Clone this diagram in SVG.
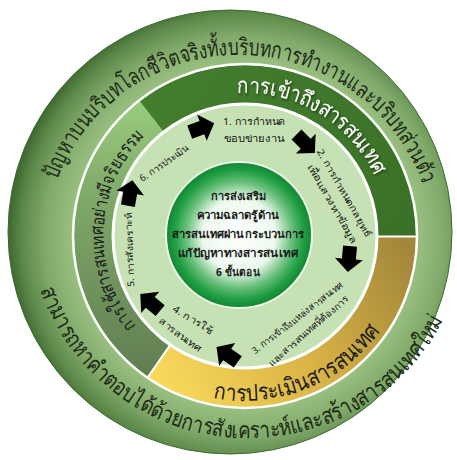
<svg xmlns="http://www.w3.org/2000/svg" width="457" height="460" viewBox="0 0 457 460">
<style>
.t{font-family:"Noto Sans",sans-serif}
.outer{font-size:23px;fill:#1d2b16}
.band{font-size:22px;fill:#ffffff}
.gold{font-size:23px;fill:#1a1a1a}
.eth{font-size:18px;fill:#1a1a1a}
.step{font-size:9.5px;fill:#151515;text-anchor:middle}
.ctr{font-size:11px;font-weight:bold;fill:#1a1a1a;text-anchor:middle}
.sep{stroke:#ffffff;fill:none}
</style>
<defs>
<radialGradient id="gOuter" gradientUnits="userSpaceOnUse" cx="245" cy="236" r="236">
<stop offset="0.72" stop-color="#9cc283"/>
<stop offset="0.85" stop-color="#80a96a"/>
<stop offset="0.95" stop-color="#5a8747"/>
<stop offset="1" stop-color="#3f6b31"/>
</radialGradient>
<linearGradient id="gGold" gradientUnits="userSpaceOnUse" x1="160" y1="390" x2="410" y2="250">
<stop offset="0" stop-color="#f9da5c"/>
<stop offset="0.5" stop-color="#d9b446"/>
<stop offset="1" stop-color="#a3863a"/>
</linearGradient>
<linearGradient id="gEth" gradientUnits="userSpaceOnUse" x1="0" y1="110" x2="0" y2="370">
<stop offset="0" stop-color="#97c97d"/>
<stop offset="0.35" stop-color="#7ea868"/>
<stop offset="1" stop-color="#627f52"/>
</linearGradient>
<linearGradient id="gDark" gradientUnits="userSpaceOnUse" x1="150" y1="90" x2="410" y2="240">
<stop offset="0" stop-color="#437d2e"/>
<stop offset="1" stop-color="#3a7128"/>
</linearGradient>
<radialGradient id="gCenter" cx="0.5" cy="0.5" r="0.5">
<stop offset="0" stop-color="#ffffff"/>
<stop offset="0.5" stop-color="#eef9ee"/>
<stop offset="0.72" stop-color="#6cc07e"/>
<stop offset="0.88" stop-color="#22a044"/>
<stop offset="1" stop-color="#118533"/>
</radialGradient>
<filter id="shadow" x="-10%" y="-10%" width="120%" height="130%">
<feDropShadow dx="1" dy="1.5" stdDeviation="0.8" flood-color="#1a2a10" flood-opacity="0.8"/>
</filter>
<path id="arrow" d="M-12,-7 L1,-7 L1,-14 L14,0 L1,14 L1,7 L-12,7 Z"/>
<path id="pTop" d="M56.9,180.1 A195,195 0 0 1 423.4,186.5"/>
<path id="pBottom" d="M40.4,290 A220,220 0 0 0 444.4,318.3"/>
<path id="pAccess" d="M237.5,93.1 A143,143 0 0 1 374.6,296.4"/>
<path id="pEval" d="M213.5,398 A165,165 0 0 0 380.2,330.6"/>
<path id="pEth" d="M135.6,325.8 A142,142 0 0 1 146.4,133.9"/>
</defs>

<g id="outer-ring">
<circle cx="230" cy="232" r="222" fill="url(#gOuter)" stroke="#3f6a31" stroke-width="1"/>
<text class="t outer"><textPath href="#pTop" textLength="474" lengthAdjust="spacingAndGlyphs">ปัญหาบนบริบทโลกชีวิตจริงทั้งบริบทการทำงานและบริบทส่วนตัว</textPath></text>
<text class="t outer"><textPath href="#pBottom" textLength="512" lengthAdjust="spacingAndGlyphs">สามารถหาคำตอบได้ด้วยการสังเคราะห์และสร้างสารสนเทศใหม่</textPath></text>
</g>

<g id="band-access">
<path d="M139.7,101.3 A171,171 0 0 1 416,236 L378,236 A133,133 0 0 0 163.1,131.2 Z" fill="url(#gDark)"/>
<text class="t band" filter="url(#shadow)"><textPath href="#pAccess" textLength="170" lengthAdjust="spacingAndGlyphs">การเข้าถึงสารสนเทศ</textPath></text>
</g>

<g id="band-evaluate">
<path d="M416,236 A171,171 0 0 1 148.1,376.9 L169.7,345.6 A133,133 0 0 0 378,236 Z" fill="url(#gGold)"/>
<text class="t gold"><textPath href="#pEval" textLength="190" lengthAdjust="spacingAndGlyphs">การประเมินสารสนเทศ</textPath></text>
</g>

<g id="band-ethics">
<path d="M148.1,376.9 A171,171 0 0 1 139.7,101.3 L163.1,131.2 A133,133 0 0 0 169.7,345.6 Z" fill="url(#gEth)"/>
<text class="t eth"><textPath href="#pEth" textLength="208" lengthAdjust="spacingAndGlyphs">การใช้สารสนเทศอย่างมีจริยธรรม</textPath></text>
</g>

<g id="separators">
<circle class="sep" cx="245" cy="236" r="172" stroke-width="2.5"/>
<line class="sep" x1="378" y1="236.5" x2="416" y2="236.5" stroke-width="2" stroke="#dfe9c9"/>
<line class="sep" x1="169.7" y1="345.6" x2="148.1" y2="376.9" stroke-width="2" stroke="#c9dfb5"/>
</g>

<g id="inner-disc">
<circle cx="245" cy="236" r="132" fill="#c6e2b4" stroke="#ffffff" stroke-width="3"/>
</g>

<g id="center">
<circle cx="239" cy="235" r="73" fill="url(#gCenter)" stroke="#e9f6e6" stroke-width="2"/>
<text class="t ctr" x="238" y="200" textLength="55" lengthAdjust="spacingAndGlyphs">การส่งเสริม</text>
<text class="t ctr" x="238" y="219" textLength="83" lengthAdjust="spacingAndGlyphs">ความฉลาดรู้ด้าน</text>
<text class="t ctr" x="238" y="238" textLength="133" lengthAdjust="spacingAndGlyphs">สารสนเทศผ่านกระบวนการ</text>
<text class="t ctr" x="238" y="257" textLength="120" lengthAdjust="spacingAndGlyphs">แก้ปัญหาทางสารสนเทศ</text>
<text class="t ctr" x="238" y="276" textLength="44" lengthAdjust="spacingAndGlyphs">6 ขั้นตอน</text>
</g>

<g id="step1">
<text class="t step" x="254" y="125" textLength="62" lengthAdjust="spacingAndGlyphs">1. การกำหนด</text>
<text class="t step" x="254" y="142" textLength="60" lengthAdjust="spacingAndGlyphs">ขอบข่ายงาน</text>
</g>
<g id="step2">
<text class="t step" transform="translate(344,193) rotate(60)" y="3" textLength="100" lengthAdjust="spacingAndGlyphs">2. การกำหนดกลยุทธ์</text>
<text class="t step" transform="translate(332,204) rotate(60)" y="3" textLength="90" lengthAdjust="spacingAndGlyphs">เพื่อแสวงหาข้อมูล</text>
</g>
<g id="step3">
<text class="t step" transform="translate(297.5,318) rotate(-37.6)" y="3" textLength="112" lengthAdjust="spacingAndGlyphs">3. การเข้าถึงแหล่งสารสนเทศ</text>
<text class="t step" transform="translate(308.5,331) rotate(-41)" y="3" textLength="102" lengthAdjust="spacingAndGlyphs">และสารสนเทศที่ต้องการ</text>
</g>
<g id="step4">
<text class="t step" transform="translate(192.5,320) rotate(32)" y="3" textLength="45" lengthAdjust="spacingAndGlyphs">4. การใช้</text>
<text class="t step" transform="translate(180,335) rotate(37)" y="3" textLength="50" lengthAdjust="spacingAndGlyphs">สารสนเทศ</text>
</g>
<g id="step5">
<text class="t step" transform="translate(130,250) rotate(-92)" y="3" textLength="74" lengthAdjust="spacingAndGlyphs">5. การสังเคราะห์</text>
</g>
<g id="step6">
<text class="t step" transform="translate(164,163.5) rotate(-34.5)" y="3" textLength="57" lengthAdjust="spacingAndGlyphs">6. การประเมิน</text>
</g>

<g id="connectors" fill="#000000">
<use href="#arrow" transform="translate(201,128) rotate(-20)"/>
<use href="#arrow" transform="translate(305,143) rotate(45)"/>
<use href="#arrow" transform="translate(349,258) rotate(95)"/>
<use href="#arrow" transform="translate(228,355) rotate(215)"/>
<use href="#arrow" transform="translate(151,303) rotate(-140)"/>
<use href="#arrow" transform="translate(130,194) rotate(-80)"/>
</g>
</svg>
